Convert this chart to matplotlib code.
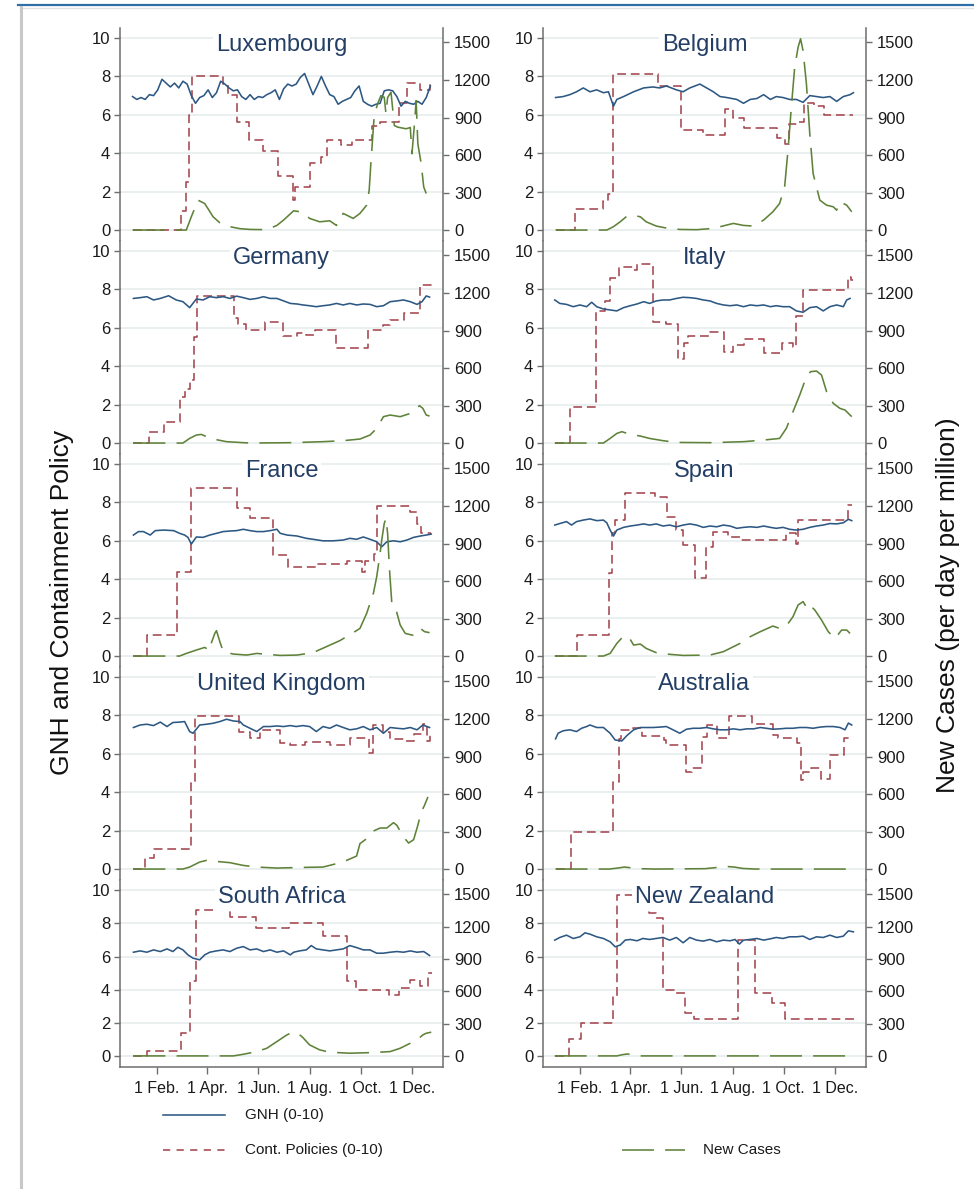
import matplotlib
matplotlib.use('Agg')
import matplotlib.pyplot as plt
from matplotlib.lines import Line2D

plt.rcParams['font.family'] = ['Liberation Sans', 'DejaVu Sans']

# ---- data (day of year 2020, 0 = 1 Jan) ----
lux_gnh_day = [2, 7, 12, 17, 22, 27, 32, 37, 42, 47, 52, 57, 62, 67, 72, 77, 82, 87, 92, 97, 102, 107, 112, 117,
               122, 127, 132, 137, 142, 147, 152, 157, 162, 167, 172, 177, 182, 187, 192, 197, 202, 207, 212, 217,
               222, 227, 232, 237, 242, 247, 252, 257, 262, 267, 272, 277, 282, 287, 292, 297, 302, 307, 312, 317,
               322, 327, 332, 337, 342, 347, 352, 357]
lux_gnh = [6.95, 6.8, 6.9, 6.8, 7.05, 7.0, 7.3, 7.85, 7.65, 7.45, 7.65, 7.4, 7.75, 7.6, 7.0, 6.6, 6.9, 7.0, 7.3, 6.9,
           7.15, 7.75, 7.6, 7.4, 7.25, 7.3, 6.95, 6.8, 7.05, 6.8, 6.95, 6.9, 7.05, 7.15, 7.3, 6.8, 7.35, 7.6, 7.5, 7.6,
           7.95, 8.15, 7.6, 7.05, 7.5, 8.0, 7.5, 7.05, 6.95, 6.55, 6.7, 6.8, 6.9, 7.25, 7.5, 6.7, 6.55, 6.45, 6.55, 6.6,
           7.25, 7.3, 7.25, 6.95, 6.45, 6.7, 6.6, 6.55, 6.7, 6.55, 6.9, 7.5]
lux_pol_day = [2, 60, 66, 69, 73, 110, 116, 126, 141, 158, 175, 193, 195, 214, 226, 234, 251, 263, 287, 297, 319,
               329, 345, 357]
lux_pol = [0, 1.0, 2.5, 6.0, 8.0, 7.6, 7.05, 5.65, 4.7, 4.1, 2.8, 1.55, 2.25, 3.5, 3.8, 4.7, 4.45, 4.7, 5.4, 5.65,
           6.6, 7.65, 7.3, 7.8]
lux_case_day = [2, 66, 72, 80, 88, 98, 106, 118, 130, 142, 162, 174, 182, 194, 205, 213, 225, 237, 245, 253, 265,
                273, 281, 284, 286, 290, 294, 298, 302, 304, 306, 310, 314, 318, 328, 333, 335, 338, 340, 342, 346,
                349, 352]
lux_case = [0, 0, 106, 239, 212, 106, 58, 27, 11, 5, 3, 37, 80, 154, 143, 93, 66, 74, 37, 133, 93, 133, 199, 318,
            531, 916, 1009, 1075, 1062, 929, 1060, 1102, 836, 823, 810, 820, 610, 850, 1035, 690, 531, 345, 292]

bel_gnh_day = [2, 11, 19, 27, 35, 43, 51, 59, 65, 71, 75, 83, 95, 107, 118, 126, 134, 146, 154, 162, 174, 182, 190,
               198, 206, 218, 226, 234, 242, 250, 258, 265, 273, 281, 289, 297, 305, 313, 321, 329, 337, 345, 353, 357]
bel_gnh = [6.9, 6.95, 7.05, 7.2, 7.4, 7.2, 7.3, 7.15, 7.2, 6.45, 6.8, 6.95, 7.2, 7.4, 7.45, 7.4, 7.5, 7.3, 7.2, 7.4,
           7.6, 7.4, 7.2, 6.95, 6.9, 6.8, 6.6, 6.8, 6.85, 7.05, 6.8, 6.95, 6.9, 6.8, 6.8, 6.65, 7.0, 6.95, 6.9, 6.95,
           6.7, 6.95, 7.05, 7.15]
bel_pol_day = [2, 25, 58, 65, 71, 124, 152, 178, 204, 214, 226, 266, 276, 280, 290, 298, 310, 322, 357]
bel_pol = [0, 1.1, 1.5, 1.9, 8.1, 7.5, 5.2, 4.95, 6.3, 5.85, 5.3, 4.8, 4.5, 5.5, 5.6, 6.6, 6.45, 6.0, 6.0]
bel_case_day = [2, 63, 71, 79, 87, 95, 103, 110, 122, 134, 150, 170, 190, 206, 214, 226, 238, 250, 261, 269, 275,
                279, 283, 287, 291, 294, 297, 301, 305, 309, 317, 325, 333, 337, 341, 349, 355]
bel_case = [0, 0, 27, 66, 111, 117, 106, 66, 32, 16, 5, 3, 13, 40, 53, 37, 32, 80, 146, 212, 345, 637, 982, 1301,
            1460, 1530, 1434, 1168, 770, 451, 239, 199, 186, 159, 226, 199, 146]

ger_gnh_day = [3, 11, 19, 27, 35, 45, 54, 62, 70, 78, 86, 94, 102, 110, 118, 126, 134, 142, 150, 158, 166, 174, 182,
               190, 198, 205, 213, 221, 229, 237, 245, 253, 261, 269, 277, 285, 293, 301, 309, 317, 325, 333, 341,
               347, 352, 356]
ger_gnh = [7.53, 7.57, 7.62, 7.45, 7.53, 7.67, 7.45, 7.36, 7.05, 7.5, 7.45, 7.62, 7.57, 7.62, 7.53, 7.65, 7.57,
           7.48, 7.53, 7.62, 7.53, 7.53, 7.4, 7.27, 7.24, 7.19, 7.15, 7.1, 7.15, 7.19, 7.27, 7.19, 7.27, 7.19, 7.24,
           7.22, 7.1, 7.15, 7.36, 7.4, 7.45, 7.36, 7.22, 7.36, 7.66, 7.6]
ger_pol_day = [3, 22, 39, 58, 64, 70, 75, 79, 123, 128, 137, 160, 181, 198, 209, 220, 244, 283, 300, 309, 325,
               344, 360]
ger_pol = [0, 0.55, 1.1, 2.4, 2.8, 3.3, 5.5, 7.65, 6.5, 6.2, 5.9, 6.3, 5.55, 5.75, 5.65, 5.9, 4.93, 5.9, 6.15, 6.4,
           6.75, 8.25, 8.25]
ger_case_day = [3, 62, 70, 78, 84, 90, 98, 114, 142, 190, 229, 253, 273, 285, 293, 301, 309, 321, 333, 344, 348,
                352, 356]
ger_case = [0, 0, 37, 64, 69, 51, 32, 11, 0, 3, 11, 19, 32, 64, 117, 211, 224, 211, 237, 299, 277, 224, 216]

ita_gnh_day = [1, 7, 15, 23, 31, 39, 45, 51, 59, 67, 75, 83, 91, 99, 107, 114, 122, 130, 138, 146, 154, 162, 170,
               178, 186, 194, 202, 210, 218, 226, 234, 242, 250, 258, 265, 273, 281, 289, 297, 305, 313, 321, 329,
               337, 345, 349, 353]
ita_gnh = [7.45, 7.27, 7.22, 7.1, 7.19, 7.1, 7.33, 7.1, 6.98, 6.93, 6.88, 7.05, 7.15, 7.24, 7.36, 7.27, 7.4, 7.45,
           7.45, 7.53, 7.59, 7.57, 7.53, 7.45, 7.4, 7.27, 7.19, 7.15, 7.19, 7.1, 7.19, 7.15, 7.19, 7.1, 7.15, 7.1,
           7.1, 6.88, 6.81, 7.05, 7.1, 6.88, 7.1, 7.19, 7.1, 7.45, 7.53]
ita_pol_day = [1, 19, 50, 61, 67, 77, 94, 99, 118, 134, 148, 155, 160, 186, 203, 214, 226, 251, 272, 285, 289,
               297, 350, 354, 357]
ita_pol = [0, 1.9, 6.9, 7.4, 8.6, 9.15, 9.0, 9.3, 6.3, 6.2, 4.4, 5.2, 5.55, 5.8, 4.75, 5.1, 5.4, 4.67, 5.2, 5.0,
           6.6, 7.97, 8.65, 8.5, 8.5]
ita_case_day = [1, 59, 67, 75, 81, 91, 103, 114, 130, 146, 186, 226, 250, 269, 277, 285, 293, 301, 306, 313, 319,
                325, 333, 341, 347, 355]
ita_case = [0, 0, 37, 77, 91, 69, 56, 37, 19, 5, 3, 11, 24, 37, 117, 251, 384, 531, 571, 576, 544, 411, 317, 277,
            264, 211]

fra_gnh_day = [3, 9, 15, 23, 29, 39, 51, 58, 64, 68, 72, 78, 86, 94, 102, 110, 118, 126, 134, 142, 150, 158, 166,
               174, 178, 186, 198, 209, 217, 229, 241, 253, 261, 269, 277, 285, 293, 299, 305, 313, 321, 329, 337,
               345, 352, 358]
fra_gnh = [6.3, 6.48, 6.48, 6.3, 6.53, 6.56, 6.53, 6.39, 6.3, 6.18, 5.83, 6.2, 6.18, 6.3, 6.39, 6.48, 6.51, 6.53,
           6.6, 6.53, 6.48, 6.48, 6.53, 6.6, 6.39, 6.3, 6.25, 6.13, 6.08, 6.0, 6.0, 6.04, 6.13, 6.08, 6.2, 6.08, 5.95,
           5.69, 5.95, 6.0, 5.95, 6.04, 6.18, 6.25, 6.3, 6.35]
fra_pol_day = [3, 19, 55, 72, 127, 142, 169, 187, 221, 257, 275, 279, 290, 293, 333, 341, 346, 358]
fra_pol = [0, 1.1, 4.4, 8.75, 7.7, 7.2, 5.25, 4.65, 4.8, 4.95, 4.4, 4.95, 5.3, 7.8, 7.5, 6.9, 6.4, 6.4]
fra_case_day = [3, 58, 66, 78, 88, 94, 96, 100, 102, 106, 110, 122, 138, 150, 178, 198, 217, 233, 249, 265, 273,
                281, 289, 293, 297, 299, 302, 304, 306, 308, 311, 315, 321, 327, 337, 345, 350, 356]
fra_case = [0, 0, 21, 48, 69, 43, 107, 181, 203, 115, 35, 16, 8, 21, 5, 8, 27, 75, 123, 187, 221, 341, 501, 635,
            821, 928, 1061, 1101, 981, 715, 421, 395, 248, 181, 165, 221, 195, 187]

spa_gnh_day = [1, 7, 15, 21, 27, 35, 43, 51, 59, 63, 67, 71, 75, 83, 91, 99, 107, 114, 122, 130, 138, 146, 154,
               162, 170, 178, 186, 194, 202, 210, 218, 226, 234, 242, 250, 258, 265, 273, 281, 289, 297, 305, 313,
               321, 329, 337, 345, 351, 355]
spa_gnh = [6.82, 6.9, 7.0, 6.82, 7.0, 7.08, 7.14, 7.05, 7.08, 6.94, 6.56, 6.25, 6.56, 6.7, 6.77, 6.82, 6.88, 6.82,
           6.88, 6.77, 6.82, 6.73, 6.82, 6.88, 6.82, 6.7, 6.77, 6.73, 6.82, 6.77, 6.65, 6.7, 6.73, 6.7, 6.77, 6.7,
           6.65, 6.7, 6.6, 6.56, 6.6, 6.7, 6.77, 6.82, 6.9, 6.88, 6.94, 7.12, 7.05]
spa_pol_day = [1, 28, 66, 69, 73, 85, 121, 135, 145, 154, 168, 181, 190, 208, 222, 277, 288, 291, 351, 355]
spa_pol = [0, 1.1, 4.3, 6.4, 7.1, 8.5, 8.3, 7.25, 6.55, 5.8, 4.05, 5.7, 6.45, 6.2, 6.05, 6.4, 5.85, 7.1, 7.85, 7.85]
spa_case_day = [1, 59, 67, 75, 83, 89, 95, 103, 110, 122, 134, 154, 186, 202, 214, 226, 234, 246, 261, 269, 277,
                285, 291, 297, 303, 307, 311, 319, 327, 335, 343, 349, 353]
spa_case = [0, 0, 21, 101, 160, 155, 88, 96, 61, 27, 16, 5, 8, 35, 75, 115, 155, 195, 240, 221, 240, 315, 408, 435,
            368, 395, 368, 288, 195, 141, 208, 208, 181]

uk_gnh_day = [3, 11, 19, 27, 35, 43, 50, 58, 64, 70, 74, 82, 90, 98, 106, 114, 122, 130, 134, 142, 150, 158, 166,
              174, 182, 190, 197, 205, 213, 221, 229, 237, 245, 253, 261, 269, 277, 285, 293, 301, 309, 317, 325,
              333, 341, 348, 356]
uk_gnh = [7.37, 7.5, 7.54, 7.47, 7.65, 7.42, 7.63, 7.65, 7.68, 7.16, 7.07, 7.5, 7.54, 7.59, 7.68, 7.8, 7.71, 7.68,
          7.5, 7.33, 7.16, 7.42, 7.42, 7.45, 7.42, 7.47, 7.42, 7.47, 7.42, 7.16, 7.42, 7.33, 7.5, 7.37, 7.25, 7.3,
          7.42, 7.25, 7.37, 7.07, 7.37, 7.33, 7.3, 7.37, 7.25, 7.5, 7.37]
uk_pol_day = [3, 17, 28, 72, 76, 129, 142, 154, 178, 190, 208, 237, 261, 284, 289, 301, 309, 325, 337, 348, 353, 356]
uk_pol = [0, 0.55, 1.05, 4.5, 7.95, 7.15, 6.8, 7.25, 6.55, 6.45, 6.6, 6.45, 6.8, 6.05, 7.5, 7.15, 6.75, 6.65,
          7.05, 7.55, 6.65, 7.05]
uk_case_day = [3, 62, 70, 82, 90, 102, 118, 134, 150, 174, 205, 229, 245, 257, 269, 273, 281, 289, 297, 305, 313,
               317, 325, 331, 337, 342, 346, 350, 354]
uk_case = [0, 0, 16, 56, 69, 61, 51, 29, 16, 8, 13, 16, 43, 69, 104, 203, 243, 304, 328, 328, 371, 350, 256, 208,
           235, 350, 456, 510, 577]

aus_gnh_day = [2, 5, 11, 19, 27, 33, 39, 43, 51, 59, 67, 73, 81, 87, 95, 103, 111, 118, 126, 134, 142, 150, 158,
               166, 174, 182, 190, 198, 206, 214, 222, 230, 238, 246, 253, 261, 269, 277, 285, 293, 301, 309, 317,
               325, 333, 341, 347, 351, 355]
aus_gnh = [6.78, 7.07, 7.2, 7.25, 7.16, 7.33, 7.42, 7.5, 7.37, 7.37, 7.07, 6.72, 6.67, 6.95, 7.25, 7.37, 7.37, 7.37,
           7.39, 7.42, 7.25, 7.07, 7.28, 7.33, 7.33, 7.37, 7.3, 7.25, 7.25, 7.3, 7.25, 7.3, 7.3, 7.37, 7.33, 7.28,
           7.3, 7.33, 7.33, 7.37, 7.37, 7.33, 7.39, 7.42, 7.42, 7.37, 7.25, 7.6, 7.5]
aus_pol_day = [2, 20, 71, 77, 80, 94, 105, 131, 134, 158, 165, 176, 182, 194, 209, 236, 261, 267, 290, 294, 297,
               307, 318, 329, 346, 353]
aus_pol = [0, 1.95, 4.55, 6.75, 7.25, 7.35, 6.95, 6.7, 6.45, 5.05, 5.25, 6.9, 7.5, 6.8, 7.95, 7.55, 7.0, 6.8, 6.55,
           4.65, 5.05, 5.25, 4.7, 5.95, 6.8, 6.8]
aus_case_day = [2, 66, 76, 84, 92, 102, 120, 180, 195, 205, 215, 225, 240, 355]
aus_case = [0, 0, 8, 16, 10, 3, 0, 3, 13, 21, 16, 5, 0, 0]

sa_gnh_day = [3, 11, 19, 27, 35, 43, 50, 56, 62, 68, 74, 82, 88, 94, 102, 110, 118, 126, 134, 142, 150, 158, 166,
              174, 182, 190, 194, 201, 209, 215, 221, 229, 237, 245, 253, 261, 269, 277, 285, 293, 301, 309, 317,
              325, 333, 341, 349, 352, 356]
sa_gnh = [6.26, 6.34, 6.26, 6.4, 6.3, 6.46, 6.3, 6.56, 6.4, 6.1, 5.9, 5.8, 6.1, 6.26, 6.34, 6.4, 6.3, 6.5, 6.6, 6.4,
          6.46, 6.3, 6.4, 6.26, 6.34, 6.1, 6.26, 6.34, 6.4, 6.66, 6.46, 6.4, 6.34, 6.4, 6.46, 6.66, 6.54, 6.4, 6.4,
          6.2, 6.2, 6.26, 6.3, 6.26, 6.34, 6.26, 6.3, 6.2, 6.06]
sa_pol_day = [3, 19, 60, 70, 78, 118, 149, 188, 229, 258, 268, 308, 320, 333, 345, 354, 359]
sa_pol = [0, 0.3, 1.4, 4.5, 8.8, 8.4, 7.7, 8.05, 7.25, 4.5, 4.0, 3.65, 4.1, 4.6, 4.2, 5.0, 5.0]
sa_case_day = [3, 122, 134, 150, 162, 174, 186, 193, 199, 205, 213, 225, 237, 261, 289, 309, 321, 329, 341, 348,
               352, 358]
sa_case = [0, 0, 15, 40, 71, 133, 195, 220, 210, 170, 102, 56, 34, 25, 31, 40, 71, 102, 148, 195, 210, 220]

nz_gnh_day = [1, 7, 15, 23, 31, 37, 43, 51, 59, 67, 73, 79, 85, 91, 99, 106, 114, 122, 130, 138, 146, 154, 162,
              170, 178, 186, 194, 202, 210, 216, 221, 226, 234, 242, 250, 258, 265, 273, 281, 289, 297, 305, 313,
              321, 329, 337, 345, 351, 357]
nz_gnh = [6.99, 7.15, 7.29, 7.09, 7.19, 7.43, 7.35, 7.19, 7.09, 6.89, 6.59, 6.69, 6.99, 7.03, 6.95, 7.09, 7.03,
          7.09, 7.15, 6.99, 7.15, 6.83, 7.15, 6.99, 6.93, 7.03, 6.89, 6.99, 6.95, 7.03, 6.75, 6.99, 7.03, 7.09, 6.99,
          7.07, 7.15, 7.09, 7.19, 7.19, 7.23, 7.03, 7.19, 7.15, 7.29, 7.15, 7.23, 7.55, 7.49]
nz_pol_day = [1, 18, 32, 71, 75, 113, 122, 130, 143, 156, 167, 220, 240, 260, 276, 358]
nz_pol = [0, 1.05, 1.97, 3.57, 9.7, 8.6, 8.3, 3.98, 3.78, 2.57, 2.21, 6.99, 3.78, 3.17, 2.21, 2.21]
nz_case_day = [1, 75, 82, 88, 95, 102, 357]
nz_case = [0, 0, 12, 18, 8, 0, 0]

countries = ['Luxembourg', 'Belgium', 'Germany', 'Italy', 'France', 'Spain',
             'United Kingdom', 'Australia', 'South Africa', 'New Zealand']
series = [
    (lux_gnh_day, lux_gnh, lux_pol_day, lux_pol, lux_case_day, lux_case),
    (bel_gnh_day, bel_gnh, bel_pol_day, bel_pol, bel_case_day, bel_case),
    (ger_gnh_day, ger_gnh, ger_pol_day, ger_pol, ger_case_day, ger_case),
    (ita_gnh_day, ita_gnh, ita_pol_day, ita_pol, ita_case_day, ita_case),
    (fra_gnh_day, fra_gnh, fra_pol_day, fra_pol, fra_case_day, fra_case),
    (spa_gnh_day, spa_gnh, spa_pol_day, spa_pol, spa_case_day, spa_case),
    (uk_gnh_day, uk_gnh, uk_pol_day, uk_pol, uk_case_day, uk_case),
    (aus_gnh_day, aus_gnh, aus_pol_day, aus_pol, aus_case_day, aus_case),
    (sa_gnh_day, sa_gnh, sa_pol_day, sa_pol, sa_case_day, sa_case),
    (nz_gnh_day, nz_gnh, nz_pol_day, nz_pol, nz_case_day, nz_case),
]

month_ticks = [31, 91, 152, 213, 274, 335]
month_labels = ['1 Feb.', '1 Apr.', '1 Jun.', '1 Aug.', '1 Oct.', '1 Dec.']

# ---- style ----
c_gnh = '#2d5883'
c_pol = '#a3464d'
c_case = '#5f8239'
c_grid = '#e6eeee'
c_axis = '#6e6e6e'
c_title = '#243f66'
ls_pol = (0, (5.5, 3))
ls_case = (0, (20, 7))
lw = 1.15
ratio = 153.6  # cases per unit of the left axis

W, H = 974, 1189
fig = plt.figure(figsize=(W / 100, H / 100), dpi=100)


def fx(px):
    return px / W


def fy(py):
    return 1 - py / H


col_left = [120, 543]
row_top = [28, 241, 454, 667, 880]
row_h = [213, 213, 213, 213, 187]
ax_w = 323

for i, name in enumerate(countries):
    r, c = divmod(i, 2)
    last = r == 4
    rect = [fx(col_left[c]), fy(row_top[r] + row_h[r]), ax_w / W, row_h[r] / H]
    ax = fig.add_axes(rect)
    ax2 = ax.twinx()
    gd, g, pd_, p, cd, cv = series[i]

    ax.plot(gd, g, color=c_gnh, lw=lw, zorder=3)
    ax.step(pd_, p, where='post', color=c_pol, lw=lw, ls=ls_pol, zorder=2)
    ax2.plot(cd, cv, color=c_case, lw=lw, ls=ls_case, zorder=2)

    ylo, yhi = (-0.67, 10.62) if last else (-0.57, 10.52)
    ax.set_ylim(ylo, yhi)
    ax2.set_ylim(ylo * ratio, yhi * ratio)
    ax.set_xlim(-13, 372)

    ax.set_yticks([0, 2, 4, 6, 8, 10])
    ax2.set_yticks([0, 300, 600, 900, 1200, 1500])
    ax.yaxis.grid(True, color=c_grid, lw=1.2)
    ax.set_axisbelow(True)

    for a in (ax, ax2):
        for s in a.spines.values():
            s.set_visible(False)
            s.set_color(c_axis)
            s.set_linewidth(1.1)
    ax.spines['left'].set_visible(True)
    ax2.spines['right'].set_visible(True)
    ax.tick_params(axis='y', direction='out', length=4, width=1, color=c_axis,
                   labelsize=12, labelcolor='#1a1a1a', pad=3)
    ax2.tick_params(axis='y', direction='out', length=4, width=1, color=c_axis,
                    labelsize=12, labelcolor='#1a1a1a', pad=4)
    if last:
        ax.spines['bottom'].set_visible(True)
        ax.set_xticks(month_ticks)
        ax.set_xticklabels(month_labels)
        ax.tick_params(axis='x', direction='out', length=5, width=1, color=c_axis,
                       labelsize=11.5, labelcolor='#1a1a1a', pad=5)
    else:
        ax.set_xticks([])

    ax2.annotate(name, xy=(0.5, 10 * ratio), xycoords=('axes fraction', 'data'),
                 xytext=(0, -5), textcoords='offset points',
                 ha='center', va='center', fontsize=17, color=c_title, zorder=10,
                 bbox=dict(facecolor='white', edgecolor='none', pad=2))

# axis titles
fig.text(fx(62), fy(602), 'GNH and Containment Policy', rotation=90,
         ha='center', va='center', fontsize=19, color='#111111')
fig.text(fx(948), fy(605), 'New Cases (per day per million)', rotation=90,
         ha='center', va='center', fontsize=19, color='#111111')

# legend
fig.add_artist(Line2D([fx(163), fx(225)], [fy(1115), fy(1115)], transform=fig.transFigure,
                      color=c_gnh, lw=lw))
fig.add_artist(Line2D([fx(163), fx(225)], [fy(1150), fy(1150)], transform=fig.transFigure,
                      color=c_pol, lw=lw, ls=(0, (4.5, 4))))
fig.add_artist(Line2D([fx(622), fx(685)], [fy(1150), fy(1150)], transform=fig.transFigure,
                      color=c_case, lw=lw, ls=ls_case))
fig.text(fx(245), fy(1115), 'GNH (0-10)', ha='left', va='center', fontsize=11, color='#1a1a1a')
fig.text(fx(245), fy(1150), 'Cont. Policies (0-10)', ha='left', va='center', fontsize=11, color='#1a1a1a')
fig.text(fx(703), fy(1150), 'New Cases', ha='left', va='center', fontsize=11, color='#1a1a1a')

# window frame
fig.add_artist(Line2D([fx(18), 1], [fy(4.5), fy(4.5)], transform=fig.transFigure,
                      color='#2f6ea6', lw=1.6))
fig.add_artist(Line2D([fx(20), 1], [fy(8), fy(8)], transform=fig.transFigure,
                      color='#e2e2e2', lw=1))
fig.add_artist(Line2D([fx(20.5), fx(20.5)], [fy(7), 0], transform=fig.transFigure,
                      color='#c8c8c8', lw=2.2))

fig.savefig('out.png', dpi=100, facecolor='white')
